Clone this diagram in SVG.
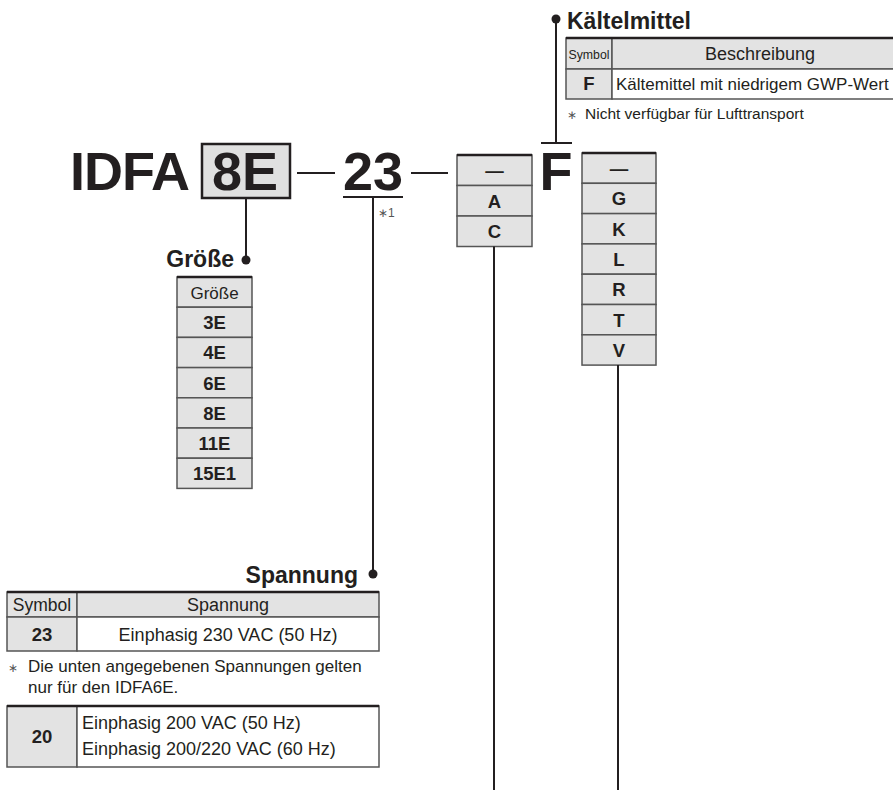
<svg xmlns="http://www.w3.org/2000/svg" width="893" height="790" viewBox="0 0 893 790">
<style>
text{font-family:"Liberation Sans",Arial,Helvetica,sans-serif;fill:#231f20}
.b{font-weight:bold}
.c{text-anchor:middle}
.big{font-size:54px;font-weight:bold}
.lbl{font-size:23px;font-weight:bold}
.r18{font-size:18px}
.b17{font-size:18.5px;font-weight:bold}
.g{fill:#e3e3e3;stroke:#555;stroke-width:1.5}
.w{fill:#fff;stroke:#555;stroke-width:1.5}
.top{stroke:#231f20;stroke-width:2.5}
.ln{stroke:#231f20;stroke-width:2;fill:none}
.dot{fill:#231f20}
.ast{font-size:12px;fill:#555}
</style>

<g id="code">
  <text x="70" y="190" class="big" letter-spacing="-1">IDFA</text>
  <rect x="202" y="144" width="88" height="54" fill="#e0e0e0" stroke="#231f20" stroke-width="2.5"/>
  <text x="245" y="190" class="big c">8E</text>
  <line x1="297" y1="173" x2="335" y2="173" class="ln" stroke-width="2.5"/>
  <text x="373" y="190" class="big c">23</text>
  <line x1="343" y1="197" x2="403" y2="197" class="ln"/>
  <text x="378" y="217" class="ast">∗1</text>
  <line x1="411" y1="173" x2="448" y2="173" class="ln" stroke-width="2.5"/>
  <text x="556" y="190" class="big c">F</text>
  <line x1="541" y1="143" x2="572" y2="143" class="ln"/>
</g>

<g id="option1">
  <rect x="457" y="155" width="75" height="30.5" class="g"/>
  <rect x="457" y="185.5" width="75" height="30.5" class="g"/>
  <rect x="457" y="216" width="75" height="30.5" class="g"/>
  <line x1="457" y1="155" x2="532" y2="155" class="top" stroke-width="2"/>
  <text x="494.5" y="177" class="b17 c">—</text>
  <text x="494.5" y="207.5" class="b17 c">A</text>
  <text x="494.5" y="238" class="b17 c">C</text>
</g>

<g id="option2">
  <rect x="582" y="153" width="74" height="30.3" class="g"/>
  <rect x="582" y="183.3" width="74" height="30.3" class="g"/>
  <rect x="582" y="213.6" width="74" height="30.3" class="g"/>
  <rect x="582" y="243.9" width="74" height="30.3" class="g"/>
  <rect x="582" y="274.2" width="74" height="30.3" class="g"/>
  <rect x="582" y="304.5" width="74" height="30.3" class="g"/>
  <rect x="582" y="334.8" width="74" height="30.3" class="g"/>
  <line x1="582" y1="153" x2="656" y2="153" class="top" stroke-width="2"/>
  <text x="619" y="175" class="b17 c">—</text>
  <text x="619" y="205" class="b17 c">G</text>
  <text x="619" y="235.5" class="b17 c">K</text>
  <text x="619" y="266" class="b17 c">L</text>
  <text x="619" y="296" class="b17 c">R</text>
  <text x="619" y="326.5" class="b17 c">T</text>
  <text x="619" y="356.5" class="b17 c">V</text>
</g>

<g id="kaeltemittel">
  <text x="567" y="29" class="lbl" font-size="24px">Kältelmittel</text>
  <rect x="566" y="38" width="46" height="31" class="g"/>
  <rect x="612" y="38" width="295" height="31" class="g"/>
  <rect x="566" y="69" width="46" height="30" class="g"/>
  <rect x="612" y="69" width="295" height="30" class="w"/>
  <line x1="566" y1="38" x2="907" y2="38" class="top"/>
  <text x="589" y="59" font-size="13" class="c" textLength="41" lengthAdjust="spacingAndGlyphs">Symbol</text>
  <text x="760" y="60" class="r18 c">Beschreibung</text>
  <text x="589" y="90" class="b17 c">F</text>
  <text x="616" y="90" font-size="17px">Kältemittel mit niedrigem GWP-Wert</text>
  <text x="567" y="119" class="ast">∗</text>
  <text x="585" y="119" font-size="15.5px">Nicht verfügbar für Lufttransport</text>
</g>

<g id="groesse">
  <text x="234" y="267" class="lbl" text-anchor="end">Größe</text>
  <rect x="177" y="277" width="75" height="30.2" class="g"/>
  <rect x="177" y="307.2" width="75" height="30.2" class="g"/>
  <rect x="177" y="337.4" width="75" height="30.2" class="g"/>
  <rect x="177" y="367.6" width="75" height="30.2" class="g"/>
  <rect x="177" y="397.8" width="75" height="30.2" class="g"/>
  <rect x="177" y="428" width="75" height="30.2" class="g"/>
  <rect x="177" y="458.2" width="75" height="30.2" class="g"/>
  <line x1="177" y1="277" x2="252" y2="277" class="top" stroke-width="2"/>
  <text x="214.5" y="299" class="c" font-size="17">Größe</text>
  <text x="214.5" y="329" class="b17 c">3E</text>
  <text x="214.5" y="359" class="b17 c">4E</text>
  <text x="214.5" y="389.5" class="b17 c">6E</text>
  <text x="214.5" y="419.5" class="b17 c">8E</text>
  <text x="214.5" y="450" class="b17 c">11E</text>
  <text x="214.5" y="480" class="b17 c">15E1</text>
</g>

<g id="spannung">
  <text x="358" y="583" class="lbl" text-anchor="end">Spannung</text>
  <rect x="7" y="592" width="70" height="25" class="g"/>
  <rect x="77" y="592" width="302" height="25" class="g"/>
  <rect x="7" y="617" width="70" height="34" class="g"/>
  <rect x="77" y="617" width="302" height="34" class="w"/>
  <line x1="7" y1="592" x2="379" y2="592" class="top"/>
  <text x="42" y="611" class="c" font-size="17.5">Symbol</text>
  <text x="228" y="611" class="r18 c">Spannung</text>
  <text x="42" y="641" class="b17 c">23</text>
  <text x="228" y="641" class="r18 c">Einphasig 230 VAC (50 Hz)</text>
  <text x="8" y="672" class="ast">∗</text>
  <text x="28" y="672" font-size="17px">Die unten angegebenen Spannungen gelten</text>
  <text x="28" y="693" font-size="17px">nur für den IDFA6E.</text>
  <rect x="7" y="706" width="70" height="61" class="g"/>
  <rect x="77" y="706" width="302" height="61" class="w"/>
  <line x1="7" y1="706" x2="379" y2="706" class="top"/>
  <text x="42" y="743" class="b17 c">20</text>
  <text x="82" y="729" class="r18">Einphasig 200 VAC (50 Hz)</text>
  <text x="82" y="755" class="r18">Einphasig 200/220 VAC (60 Hz)</text>
</g>

<g id="connectors">
  <line x1="246" y1="198" x2="246" y2="260" class="ln"/>
  <circle cx="246" cy="260" r="4.5" class="dot"/>
  <line x1="373" y1="197" x2="373" y2="574" class="ln"/>
  <circle cx="373" cy="574" r="4.5" class="dot"/>
  <line x1="556" y1="19" x2="556" y2="143" class="ln"/>
  <circle cx="556" cy="19" r="4.5" class="dot"/>
  <line x1="494" y1="246.5" x2="494" y2="790" class="ln"/>
  <line x1="618" y1="365" x2="618" y2="790" class="ln"/>
</g>
</svg>
